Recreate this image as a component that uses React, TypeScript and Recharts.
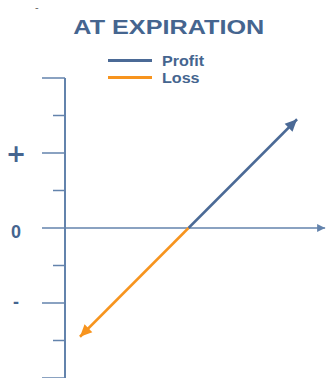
import React from "react";
import { LineChart, Line, XAxis, YAxis, Legend } from "recharts";

// strike / payoff values (price units on x, P&L units on y)
const profitPrice = [3.3, 6.2];
const profitPnl = [0, 2.9];
const lossPrice = [3.3, 0.4];
const lossPnl = [0, -2.9];
const axisPrice = [0, 6.95];
const axisPnl = [0, 0];

const yTicks = [-4, -3, -2, -1, 0, 1, 2, 3, 4];
const yLabels: Record<number, string> = { 2: "+", 0: "0", "-2": "-" };

const legendItems = [
  { name: "Profit", color: "#4b6a96" },
  { name: "Loss", color: "#f7941e" },
];

const W = 327;
const H = 378;
const LEFT = 65;
const TOP = 78;
const X_MAX = 7;
const Y_MAX = 4;
const PX_X = (W - LEFT) / X_MAX;
const PX_Y = (H - TOP) / (2 * Y_MAX);

const AXIS = "#6383ac";
const TEXT = "#45658f";
const FONT = "Liberation Sans, Arial, sans-serif";

const toRows = (xs: number[], ys: number[]) => xs.map((x, i) => ({ x, y: ys[i] }));

const profitData = toRows(profitPrice, profitPnl);
const lossData = toRows(lossPrice, lossPnl);
const axisData = toRows(axisPrice, axisPnl);

const arrowDot = (rows: { x: number; y: number }[], color: string, len: number, half: number) => (props: any) => {
  const { cx, cy, index } = props;
  const last = rows.length - 1;
  if (index !== last || cx == null) return <g key={`d${index}`} />;
  const dx = (rows[last].x - rows[last - 1].x) * PX_X;
  const dy = -(rows[last].y - rows[last - 1].y) * PX_Y;
  const a = Math.atan2(dy, dx);
  const bx = cx - Math.cos(a) * len;
  const by = cy - Math.sin(a) * len;
  const px = -Math.sin(a) * half;
  const py = Math.cos(a) * half;
  return (
    <polygon
      key={`d${index}`}
      points={`${cx},${cy} ${bx + px},${by + py} ${bx - px},${by - py}`}
      fill={color}
    />
  );
};

const YTick = (props: any) => {
  const { x, y, payload } = props;
  const v = payload.value;
  const long = v % 2 === 0;
  const label = yLabels[v];
  return (
    <g>
      <line x1={x - (long ? 23 : 12)} y1={y} x2={x} y2={y} stroke={AXIS} strokeWidth={1.5} />
      {label && (
        <text
          x={x - 49}
          y={y + (v === 0 ? 4 : v === 2 ? 1 : -1)}
          textAnchor="middle"
          dominantBaseline="central"
          fill={TEXT}
          fontFamily={v === 2 ? "DejaVu Sans, sans-serif" : FONT}
          fontWeight="bold"
          fontSize={v === 2 ? 24 : 18}
        >
          {label}
        </text>
      )}
    </g>
  );
};

const renderLegend = () => (
  <div style={{ fontFamily: FONT }}>
    {legendItems.map((it) => (
      <div key={it.name} style={{ display: "flex", alignItems: "center", height: 17 }}>
        <div style={{ width: 44, height: 3, background: it.color }} />
        <span
          style={{
            marginLeft: 10,
            fontWeight: "bold",
            fontSize: 14,
            color: TEXT,
            display: "inline-block",
            transform: "scaleX(1.15)",
            transformOrigin: "left center",
          }}
        >
          {it.name}
        </span>
      </div>
    ))}
  </div>
);

export default function App() {
  return (
    <div style={{ position: "absolute", left: 0, top: 0, width: W, height: H, background: "#fff" }}>
      <div
        style={{
          position: "absolute",
          top: 1,
          left: 35,
          fontFamily: FONT,
          fontSize: 11,
          lineHeight: "12px",
          color: "#666",
        }}
      >
        -
      </div>
      <div
        style={{
          position: "absolute",
          top: 16,
          left: 0,
          width: 338,
          textAlign: "center",
          fontFamily: FONT,
          fontWeight: "bold",
          fontSize: 20,
          color: TEXT,
          zIndex: 2,
        }}
      >
        <span style={{ display: "inline-block", transform: "scaleX(1.26)" }}>AT EXPIRATION</span>
      </div>
      <LineChart width={W} height={H} margin={{ top: TOP, right: 0, bottom: 0, left: 5 }}>
        <XAxis type="number" dataKey="x" domain={[0, X_MAX]} hide allowDataOverflow />
        <YAxis
          type="number"
          dataKey="y"
          domain={[-Y_MAX, Y_MAX]}
          ticks={yTicks}
          interval={0}
          width={60}
          tickSize={0}
          tickMargin={0}
          tickLine={false}
          tick={<YTick />}
          axisLine={{ stroke: AXIS, strokeWidth: 2 }}
          allowDataOverflow
        />
        <Legend
          layout="vertical"
          align="center"
          verticalAlign="middle"
          content={renderLegend}
          wrapperStyle={{ top: 52, left: 108, width: 120 }}
        />
        <Line
          data={axisData}
          dataKey="y"
          stroke={AXIS}
          strokeWidth={1.5}
          dot={arrowDot(axisData, AXIS, 8, 4)}
          activeDot={false}
          legendType="none"
          isAnimationActive={false}
        />
        <Line
          data={profitData}
          dataKey="y"
          stroke="#4b6a96"
          strokeWidth={2.5}
          dot={arrowDot(profitData, "#4b6a96", 12, 5.5)}
          activeDot={false}
          isAnimationActive={false}
        />
        <Line
          data={lossData}
          dataKey="y"
          stroke="#f7941e"
          strokeWidth={2.5}
          dot={arrowDot(lossData, "#f7941e", 12, 5.5)}
          activeDot={false}
          isAnimationActive={false}
        />
      </LineChart>
    </div>
  );
}
